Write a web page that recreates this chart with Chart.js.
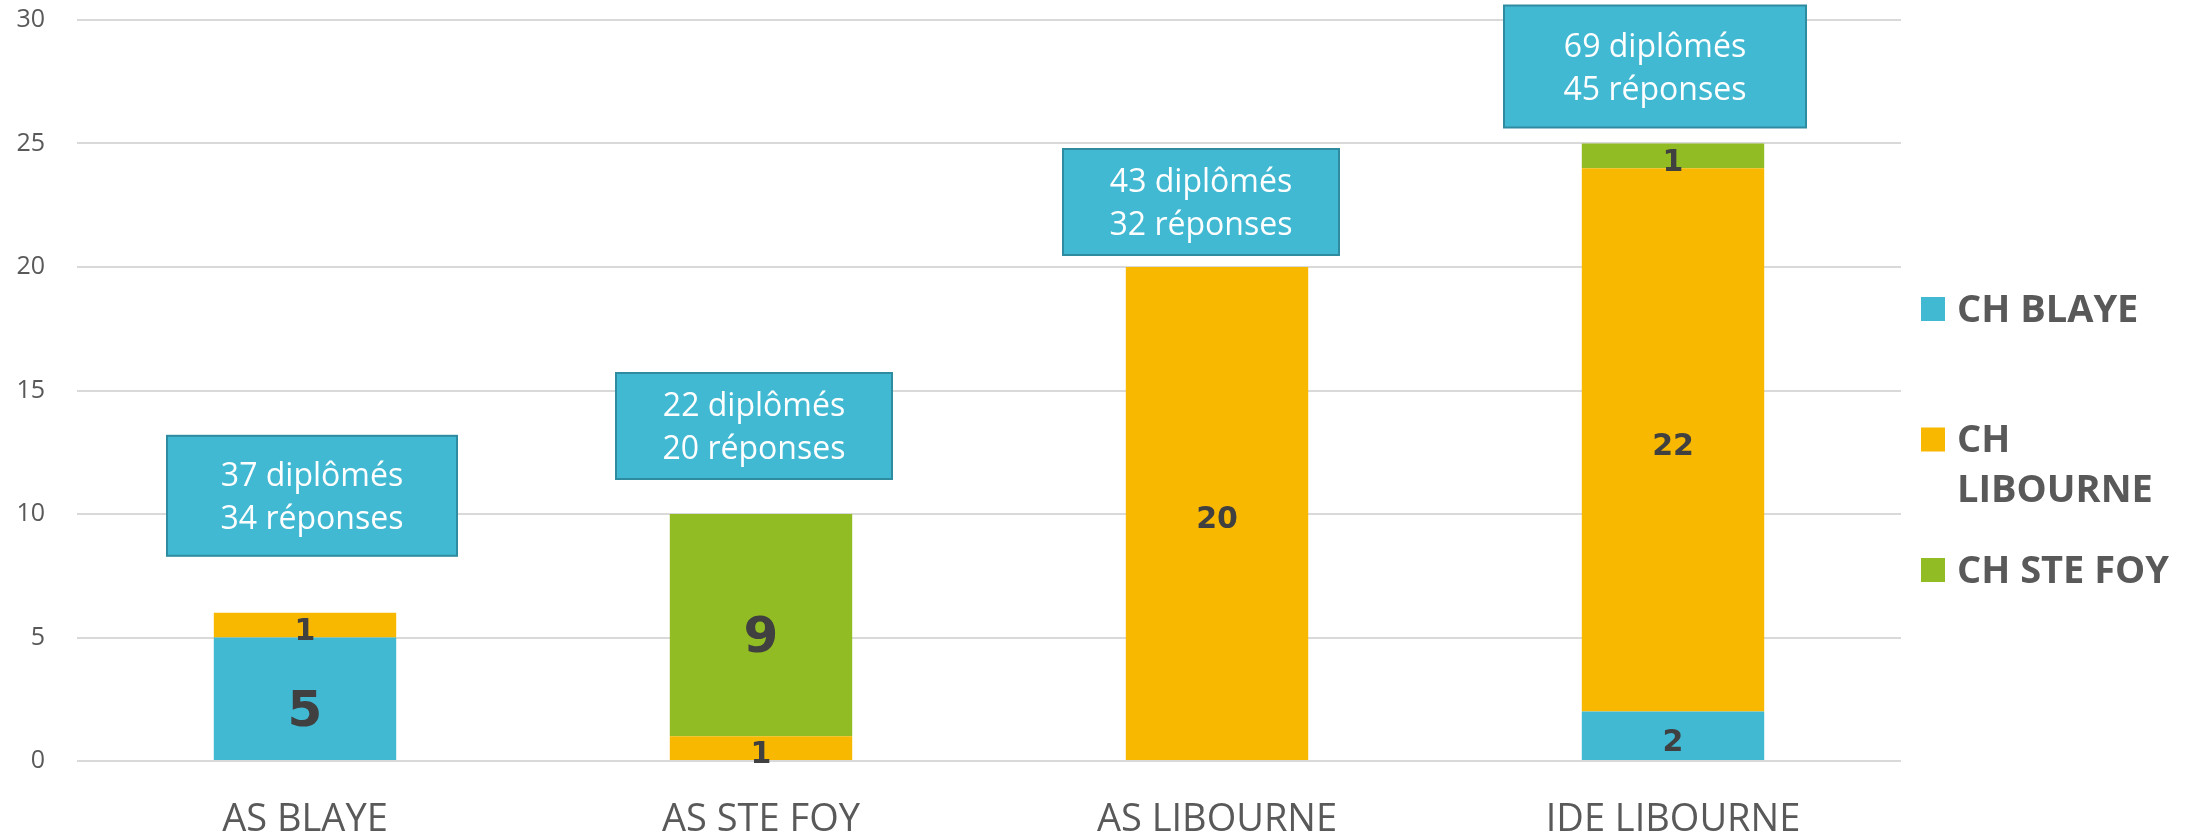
<!DOCTYPE html>
<html>
<head>
<meta charset="utf-8">
<script src="https://cdn.jsdelivr.net/npm/chart.js@4"></script>
<style>
    html, body { margin: 0; padding: 0; background: #ffffff; }
    #wrap { width: 2200px; height: 835px; }
</style>
</head>
<body>
<div id="wrap"><canvas id="chart"></canvas></div>
<script>
// Data
const categories = ['AS BLAYE', 'AS STE FOY', 'AS LIBOURNE', 'IDE LIBOURNE'];
const seriesNames = ['CH BLAYE', 'CH LIBOURNE', 'CH STE FOY'];
const chBlaye = [5, null, null, 2];
const chLibourne = [1, 1, 20, 22];
const chSteFoy = [null, 9, null, 1];
const diplomes = [37, 22, 43, 69];
const reponses = [34, 20, 32, 45];
const yTicks = [0, 5, 10, 15, 20, 25, 30];

// Styles
const colors = ['#41B9D3', '#F9B800', '#92BC23'];
const textGrey = '#595959';
const labelDark = '#404040';
// labels drawn larger in the original: [datasetIndex, dataIndex]
const bigLabels = [[0, 0], [2, 1]];
// callout boxes: horizontal shift from bar centre, gap above the stack, size
const boxLayout = [
    { dx: 7, gap: 57, w: 290, h: 120 },
    { dx: -7, gap: 35, w: 276, h: 106 },
    { dx: -16, gap: 12, w: 276, h: 106 },
    { dx: -18, gap: 16, w: 302, h: 122 },
];

const stackTotal = (i) => [chBlaye, chLibourne, chSteFoy]
    .reduce((sum, s) => sum + (s[i] || 0), 0);

const calloutPlugin = {
    id: 'callouts',
    afterDatasetsDraw(chart) {
        const ctx = chart.ctx;
        const x = chart.scales.x;
        const y = chart.scales.y;
        ctx.save();
        categories.forEach((c, i) => {
            const lay = boxLayout[i];
            const cx = x.getPixelForValue(i) + lay.dx;
            const bottom = y.getPixelForValue(stackTotal(i)) - lay.gap;
            const top = bottom - lay.h;
            ctx.fillStyle = '#41B9D3';
            ctx.fillRect(cx - lay.w / 2, top, lay.w, lay.h);
            ctx.strokeStyle = '#2E8BA0';
            ctx.lineWidth = 2;
            ctx.strokeRect(cx - lay.w / 2, top, lay.w, lay.h);
            ctx.fillStyle = '#ffffff';
            ctx.font = '32px "Open Sans"';
            ctx.textAlign = 'center';
            ctx.textBaseline = 'middle';
            const mid = (top + bottom) / 2 + 2;
            ctx.fillText(diplomes[i] + ' diplômés', cx, mid - 21);
            ctx.fillText(reponses[i] + ' réponses', cx, mid + 22);
        });
        ctx.restore();
    },
};

const valueLabelPlugin = {
    id: 'valueLabels',
    afterDatasetsDraw(chart) {
        const ctx = chart.ctx;
        ctx.save();
        ctx.fillStyle = labelDark;
        ctx.textAlign = 'center';
        ctx.textBaseline = 'middle';
        chart.data.datasets.forEach((ds, di) => {
            const meta = chart.getDatasetMeta(di);
            meta.data.forEach((bar, i) => {
                const v = ds.data[i];
                if (v === null || v === undefined) {
                    return;
                }
                const big = bigLabels.some((p) => p[0] === di && p[1] === i);
                ctx.font = 'bold ' + (big ? 50 : 30) + 'px "DejaVu Sans"';
                ctx.fillText(String(v), bar.x, (bar.y + bar.base) / 2 + (big ? 14 : 7));
            });
        });
        ctx.restore();
    },
};

// Legend on the right, wrapping long names like the original
const sideLegendPlugin = {
    id: 'sideLegend',
    afterDraw(chart) {
        const ctx = chart.ctx;
        const markX = chart.chartArea.right + 20;
        const textX = markX + 36;
        const maxW = chart.width - textX - 4;
        ctx.save();
        ctx.font = 'bold 38px "Open Sans"';
        ctx.textBaseline = 'middle';
        ctx.textAlign = 'left';
        chart.data.datasets.forEach((ds, di) => {
            const cy = 309 + di * 130.5;
            ctx.fillStyle = ds.backgroundColor;
            ctx.fillRect(markX, cy - 12, 24, 24);
            // word wrap
            const words = ds.label.split(' ');
            const lines = [];
            let line = '';
            words.forEach((w) => {
                const test = line ? line + ' ' + w : w;
                if (line && ctx.measureText(test).width > maxW) {
                    lines.push(line);
                    line = w;
                } else {
                    line = test;
                }
            });
            lines.push(line);
            ctx.fillStyle = textGrey;
            lines.forEach((l, li) => ctx.fillText(l, textX, cy + 2 + li * 50));
        });
        ctx.restore();
    },
};

const datasets = [chBlaye, chLibourne, chSteFoy].map((data, i) => ({
    label: seriesNames[i],
    data: data,
    backgroundColor: colors[i],
    borderWidth: 0,
    barPercentage: 0.4,
    categoryPercentage: 1.0,
}));

new Chart(document.getElementById('chart'), {
    type: 'bar',
    data: { labels: categories, datasets: datasets },
    plugins: [calloutPlugin, valueLabelPlugin, sideLegendPlugin],
    options: {
        responsive: true,
        maintainAspectRatio: false,
        animation: false,
        layout: { padding: { left: 0, right: 299, top: 20, bottom: 0 } },
        plugins: {
            legend: { display: false },
            tooltip: { enabled: false },
        },
        scales: {
            x: {
                stacked: true,
                grid: { display: false },
                border: { display: false },
                ticks: {
                    color: textGrey,
                    font: { family: 'Open Sans', size: 38 },
                    padding: 28,
                    maxRotation: 0,
                },
                afterFit: (scale) => {
                    scale.height = 74;
                    scale.paddingLeft = 0;
                    scale.paddingRight = 0;
                },
            },
            y: {
                stacked: true,
                min: 0,
                max: 30,
                afterBuildTicks: (scale) => {
                    scale.ticks = yTicks.map((v) => ({ value: v }));
                },
                grid: { color: '#D9D9D9', lineWidth: 2, drawTicks: false },
                border: { display: false },
                ticks: {
                    color: textGrey,
                    font: { family: 'Open Sans', size: 25 },
                    padding: 32,
                },
                afterFit: (scale) => {
                    scale.width = 77;
                    scale.paddingTop = 0;
                    scale.paddingBottom = 0;
                },
            },
        },
    },
});
</script>
</body>
</html>
